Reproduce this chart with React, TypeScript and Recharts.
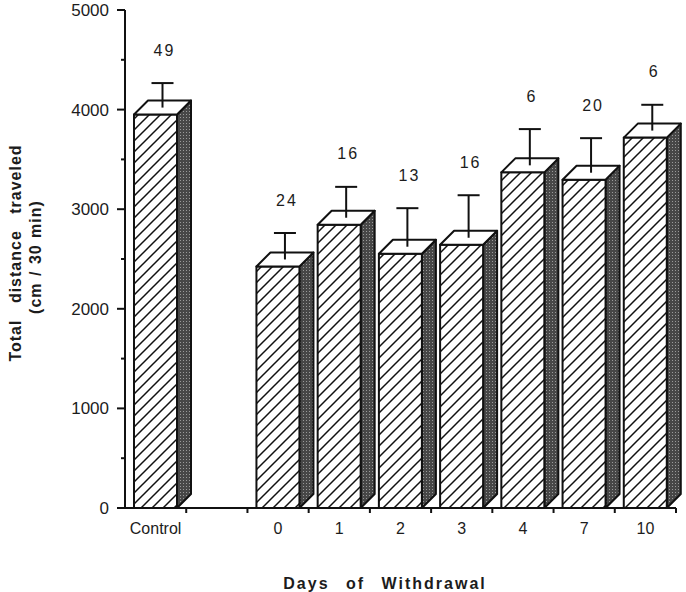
import React from 'react'
import { Bar, BarChart, Label, XAxis, YAxis } from 'recharts'

// days of withdrawal ("Control" first, then an empty slot)
const days = ['Control', ' ', '0', '1', '2', '3', '4', '7', '10']
const distance = [3950, null, 2425, 2844, 2553, 2643, 3370, 3296, 3719]
const sem = [246, null, 266, 310, 387, 427, 364, 347, 259]
const nAnimals = [49, null, 24, 16, 13, 16, 6, 20, 6]
const yTicks = [0, 500, 1000, 1500, 2000, 2500, 3000, 3500, 4000, 4500, 5000]

const W = 686
const H = 592
const DEPTH = 14
const INK = '#111'
const TEXT = '#1c1c1c'
const FONT = '"Liberation Sans", Arial, Helvetica, sans-serif'
const PLOT_W = 551
const BAND = PLOT_W / days.length

const data = days.map((day, i) => ({
  day,
  distance: distance[i],
  sem: sem[i],
  n: nAnimals[i],
}))

function Bar3D(props: any) {
  const { x, y, width, height, payload } = props
  if (payload.distance == null || !height) return null
  const d = DEPTH
  const pxPerUnit = height / payload.distance
  const cx = x + width / 2 + d / 2
  const cy = y - d / 2
  const errTop = cy - payload.sem * pxPerUnit
  return (
    <g strokeLinejoin="round">
      <polygon
        points={`${x + width},${y} ${x + width + d},${y - d} ${x + width + d},${y + height - d} ${x + width},${y + height}`}
        fill="url(#stipple)"
        stroke={INK}
        strokeWidth={2}
      />
      <rect x={x} y={y} width={width} height={height} fill="url(#hatch)" stroke={INK} strokeWidth={2} />
      <polygon
        points={`${x},${y} ${x + d},${y - d} ${x + width + d},${y - d} ${x + width},${y}`}
        fill="#fff"
        stroke={INK}
        strokeWidth={2}
      />
      <line x1={cx} x2={cx} y1={cy} y2={errTop} stroke={INK} strokeWidth={2} />
      <line x1={cx - 11} x2={cx + 11} y1={errTop} y2={errTop} stroke={INK} strokeWidth={2} />
      <text
        x={cx + 2}
        y={errTop - 33}
        dy="0.35em"
        textAnchor="middle"
        fontFamily={FONT}
        fontSize={16}
        letterSpacing={2}
        fill={TEXT}
      >
        {payload.n}
      </text>
    </g>
  )
}

function YTick({ x, y, payload }: any) {
  const major = payload.value % 1000 === 0
  return (
    <g>
      <line x1={x - (major ? 8 : 4)} x2={x} y1={y} y2={y} stroke={INK} strokeWidth={2} />
      {major && (
        <text x={x - 16} y={y} dy="0.35em" textAnchor="end" fontFamily={FONT} fontSize={17} fill={TEXT}>
          {payload.value}
        </text>
      )}
    </g>
  )
}

function XTick({ x, y, payload }: any) {
  return (
    <g>
      <line x1={x + BAND / 2} x2={x + BAND / 2} y1={y} y2={y + 5} stroke={INK} strokeWidth={2} />
      <text x={x} y={y + 20} dy="0.35em" textAnchor="middle" fontFamily={FONT} fontSize={16} fill={TEXT}>
        {String(payload.value).trim()}
      </text>
    </g>
  )
}

function YTitle() {
  return (
    <g fontFamily={FONT} fontWeight="bold" fontSize={16} fill={TEXT} letterSpacing={1}>
      <text transform="translate(15, 253) rotate(-90)" textAnchor="middle" dy="0.35em" wordSpacing={11}>
        Total distance traveled
      </text>
      <text transform="translate(35, 257) rotate(-90)" textAnchor="middle" dy="0.35em" wordSpacing={1}>
        (cm / 30 min)
      </text>
    </g>
  )
}

function XTitle() {
  return (
    <text
      x={385}
      y={583}
      dy="0.35em"
      textAnchor="middle"
      fontFamily={FONT}
      fontWeight="bold"
      fontSize={16}
      letterSpacing={2}
      wordSpacing={10}
      fill={TEXT}
    >
      Days of Withdrawal
    </text>
  )
}

export default function App() {
  return (
    <div style={{ position: 'absolute', left: 0, top: 0, width: W, height: H, background: '#fff' }}>
      <BarChart width={W} height={H} data={data} margin={{ top: 10, right: 10, bottom: 24, left: 65 }}>
        <defs>
          <pattern id="hatch" patternUnits="userSpaceOnUse" width={11} height={11}>
            <rect width={11} height={11} fill="#fff" />
            <path d="M-2,2 L2,-2 M0,11 L11,0 M9,13 L13,9" stroke={INK} strokeWidth={1.5} />
          </pattern>
          <pattern id="stipple" patternUnits="userSpaceOnUse" width={3} height={3}>
            <rect width={3} height={3} fill="#474747" />
            <rect width={1} height={1} fill="#9a9a9a" />
          </pattern>
        </defs>
        <XAxis
          dataKey="day"
          height={60}
          interval={0}
          tickSize={0}
          tickMargin={0}
          tickLine={false}
          axisLine={{ stroke: INK, strokeWidth: 2 }}
          tick={<XTick />}
        >
          <Label content={<XTitle />} />
        </XAxis>
        <YAxis
          width={60}
          domain={[0, 5000]}
          ticks={yTicks}
          interval={0}
          tickSize={0}
          tickMargin={0}
          tickLine={false}
          axisLine={{ stroke: INK, strokeWidth: 2 }}
          tick={<YTick />}
        >
          <Label content={<YTitle />} />
        </YAxis>
        <Bar dataKey="distance" barSize={43} shape={<Bar3D />} isAnimationActive={false} />
      </BarChart>
    </div>
  )
}
